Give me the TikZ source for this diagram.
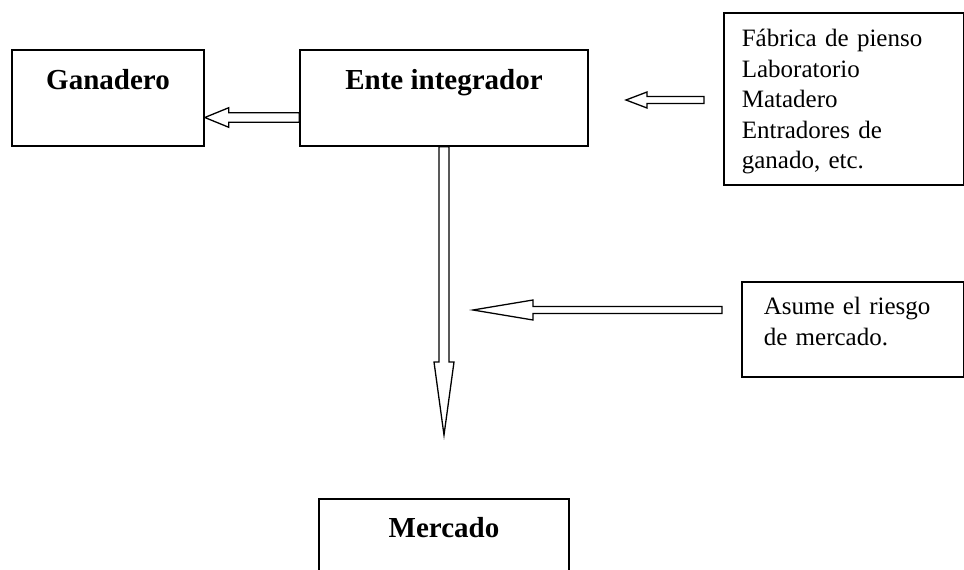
\documentclass[tikz,border=0pt]{standalone}
\usepackage{fontspec}
\setmainfont{Liberation Serif}
\usetikzlibrary{calc}
\tikzstyle{heading}=[rectangle, draw, line width=1.6pt, inner sep=0pt, font=\bfseries\fontsize{29}{34}\selectfont]
\tikzstyle{note}=[rectangle, draw, line width=1.6pt, anchor=north west, align=left, inner ysep=0pt, font=\fontsize{25}{30.5}\selectfont]
\tikzstyle{hollow}=[line width=1.3pt, line join=miter, fill=white]
\newcommand{\hollowarrow}[5]{
    \coordinate (hb) at ($(#2)!#5!(#1)$);
    \draw[hollow]
        ($(#1)!#3!90:(#2)$) -- ($(hb)!#3!90:(#2)$) -- ($(hb)!#4!90:(#2)$) -- (#2)
        -- ($(hb)!#4!-90:(#2)$) -- ($(hb)!#3!-90:(#2)$) -- ($(#1)!#3!-90:(#2)$) -- cycle;
}

\begin{document}
\begin{tikzpicture}[x=1pt, y=-1pt]
                    \useasboundingbox (0, 0) rectangle (964, 570);
                    \clip (0, 0) rectangle (964, 570);
                    \node[heading, minimum width=192pt, text height=39pt, text depth=57pt] (gan) at (108, 98) {Ganadero};
                    \node[heading, minimum width=288pt, text height=39pt, text depth=57pt] (ente) at (444, 98) {Ente integrador};
                    \node[heading, minimum width=250pt, text height=38pt, text depth=58pt] (merc) at (444, 547) {Mercado};
                    \node[note, inner xsep=18pt, text width=204pt, text height=34pt, text depth=138pt] (fab) at (723, 12)
                        {Fábrica de pienso\\Laboratorio\\Matadero\\Entradores de\\ganado, etc.};
                    \node[note, inner xsep=22pt, text width=178pt, text height=33pt, text depth=62pt] (riesgo) at (741, 281)
                        {Asume el riesgo\\de mercado.};
                    \coordinate (s1) at (704, 100);
                    \coordinate (t1) at (626, 100);
                    \coordinate (s2) at (722, 310);
                    \coordinate (t2) at (473, 310);
                    \coordinate (down) at (444, 435);
                    \hollowarrow{$(ente.west)+(0, 19.5)$}{$(gan.east)+(0, 19.5)$}{4.7pt}{9.8pt}{24pt}
                    \hollowarrow{s1}{t1}{3.5pt}{8pt}{21pt}
                    \hollowarrow{ente.south}{down}{5pt}{10pt}{73pt}
                    \hollowarrow{s2}{t2}{3.5pt}{10pt}{60pt}
                \end{tikzpicture}
\end{document}
